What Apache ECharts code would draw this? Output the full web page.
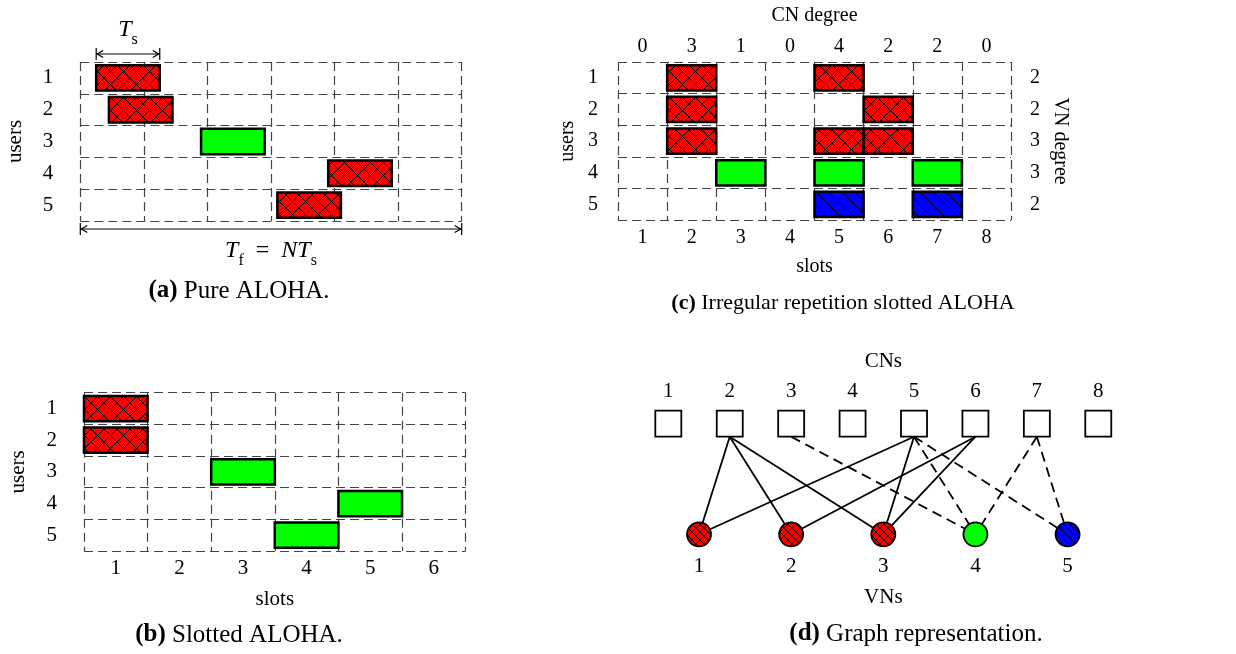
<!DOCTYPE html>
<html>
<head>
<meta charset="utf-8">
<script src="https://cdn.jsdelivr.net/npm/echarts@6/dist/echarts.min.js"></script>
<style>
html, body { margin: 0; padding: 0; background: #fff; }
#main { width: 1236px; height: 654px; }
</style>
</head>
<body>
<div id="main"></div>
<script>
// tick labels
var users = ["1", "2", "3", "4", "5"];
var slotsB = ["1", "2", "3", "4", "5", "6"];
var slotsC = ["1", "2", "3", "4", "5", "6", "7", "8"];
var cnDegree = ["0", "3", "1", "0", "4", "2", "2", "0"];
var vnDegree = ["2", "2", "3", "3", "2"];
var cnLabels = ["1", "2", "3", "4", "5", "6", "7", "8"];
var vnLabels = ["1", "2", "3", "4", "5"];

// packets: [start, user row (0 = user 1), length, kind]   kind: 0 collided, 1 clean, 2 blue
var pureAloha = [[0.25, 0, 1, 0], [0.45, 1, 1, 0], [1.9, 2, 1, 1], [3.9, 3, 1, 0], [3.1, 4, 1, 0]];
var slottedAloha = [[0, 0, 1, 0], [0, 1, 1, 0], [2, 2, 1, 1], [4, 3, 1, 1], [3, 4, 1, 1]];
// irregular repetition: slots used by each user, and kind of each user
var irsaSlots = [[2, 5], [2, 6], [2, 5, 6], [3, 5, 7], [5, 7]];
var irsaKind = [0, 0, 0, 1, 2];

// graph: CN and VN positions on the same x scale
var cnX = [1, 2, 3, 4, 5, 6, 7, 8];
var vnX = [1.5, 3, 4.5, 6, 7.5];

var font = "Liberation Serif";

// hatch fill built on a small canvas
function hatch(bg, step, cross, lw) {
  var c = document.createElement("canvas");
  c.width = step; c.height = step;
  var ctx = c.getContext("2d");
  ctx.fillStyle = bg;
  ctx.fillRect(0, 0, step, step);
  ctx.strokeStyle = "#000";
  ctx.lineWidth = lw;
  ctx.beginPath();
  for (var k = -step; k <= step; k += step) {
    ctx.moveTo(k, 0); ctx.lineTo(k + step, step);
    if (cross) { ctx.moveTo(k + step, 0); ctx.lineTo(k, step); }
  }
  ctx.stroke();
  return { image: c, repeat: "repeat" };
}

var packetFills = [hatch("#ff0000", 13, true, 1), "#00ff00", hatch("#0000ff", 13, false, 1)];
var nodeFills = [hatch("#ff0000", 8, true, 0.9), "#00ff00", hatch("#0000ff", 7, false, 0.9)];

var irsaPackets = [];
for (let i = 0; i < irsaSlots.length; i++) {
  for (let j = 0; j < irsaSlots[i].length; j++) {
    irsaPackets.push([irsaSlots[i][j] - 1, i, 1, irsaKind[i]]);
  }
}
var edges = [];
for (let i = 0; i < irsaSlots.length; i++) {
  for (let j = 0; j < irsaSlots[i].length; j++) {
    edges.push([cnX[irsaSlots[i][j] - 1], vnX[i], irsaKind[i] == 0 ? 0 : 1]);
  }
}
var vnNodes = vnX.map(function(x, i) { return [x, 0, irsaKind[i]]; });
// dimension arrows of panel (a): packet duration and frame
var dims = [[pureAloha[0][0], pureAloha[0][0] + pureAloha[0][2], 0], [0, 6, 1]];

function packetItem(params, api) {
  var x0 = api.value(0), row = api.value(1), len = api.value(2);
  var p0 = api.coord([x0, row]);
  var p1 = api.coord([x0 + len, row + 1]);
  var pad = 3.2;
  return {
    type: "rect",
    shape: { x: p0[0], y: p0[1] + pad, width: p1[0] - p0[0], height: p1[1] - p0[1] - 2 * pad },
    style: { fill: packetFills[api.value(3)], stroke: "#000", lineWidth: 2.5 }
  };
}

function dimItem(params, api) {
  var a = api.coord([api.value(0), 0]);
  var b = api.coord([api.value(1), 5]);
  var below = api.value(2) == 1;
  var y = below ? b[1] + 8 : a[1] - 8;
  var x1 = a[0], x2 = b[0];
  var st = { stroke: "#000", lineWidth: 1.2, fill: null };
  var text = below ? "{t|T}{s|f}{r|  =  }{t|NT}{s|s}" : "{t|T}{s|s}";
  return {
    type: "group",
    children: [
      { type: "line", shape: { x1: x1, y1: y, x2: x2, y2: y }, style: st },
      { type: "line", shape: { x1: x1, y1: y - 6, x2: x1, y2: y + 6 }, style: st },
      { type: "line", shape: { x1: x2, y1: y - 6, x2: x2, y2: y + 6 }, style: st },
      { type: "polyline", shape: { points: [[x1 + 7, y - 3.5], [x1 + 1, y], [x1 + 7, y + 3.5]] }, style: st },
      { type: "polyline", shape: { points: [[x2 - 7, y - 3.5], [x2 - 1, y], [x2 - 7, y + 3.5]] }, style: st },
      {
        type: "text",
        style: {
          text: text,
          x: (x1 + x2) / 2,
          y: below ? y + 25 : y - 21,
          align: "center",
          verticalAlign: "middle",
          fill: "#000",
          rich: {
            t: { fontFamily: font, fontStyle: "italic", fontSize: 24, lineHeight: 30, verticalAlign: "top" },
            s: { fontFamily: font, fontSize: 16, lineHeight: 18, verticalAlign: "bottom" },
            r: { fontFamily: font, fontSize: 24, lineHeight: 30, verticalAlign: "top" }
          }
        }
      }
    ]
  };
}

function edgeItem(params, api) {
  var pc = api.coord([api.value(0), 1]);
  var pv = api.coord([api.value(1), 0]);
  return {
    type: "line",
    shape: { x1: pc[0], y1: pc[1] + 13, x2: pv[0], y2: pv[1] },
    style: { stroke: "#000", lineWidth: 1.8, lineDash: api.value(2) == 1 ? [10, 6] : null }
  };
}

function vnItem(params, api) {
  var p = api.coord([api.value(0), api.value(1)]);
  return {
    type: "group",
    children: [
      {
        type: "circle",
        shape: { cx: p[0], cy: p[1], r: 12 },
        style: { fill: nodeFills[api.value(2)], stroke: "#000", lineWidth: 1.8 }
      },
      {
        type: "text",
        style: {
          text: vnLabels[params.dataIndex], x: p[0], y: p[1] + 32,
          align: "center", verticalAlign: "middle",
          fontFamily: font, fontSize: 21, fill: "#000"
        }
      }
    ]
  };
}

var txt = { fontFamily: font, fontSize: 21, color: "#000" };
var dashLine = { show: true, lineStyle: { color: "#444", width: 1.2, type: [9, 5] } };

function valueAxis(grid, max, extra) {
  return Object.assign({
    type: "value", gridIndex: grid, min: 0, max: max, interval: 1,
    axisLine: { show: false }, axisTick: { show: false }, axisLabel: { show: false },
    splitLine: dashLine
  }, extra || {});
}
function labelAxis(grid, data, extra, labelExtra) {
  return Object.assign({
    type: "category", gridIndex: grid, data: data,
    axisLine: { show: false }, axisTick: { show: false }, splitLine: { show: false },
    axisLabel: Object.assign({}, txt, labelExtra || {}),
    nameLocation: "middle",
    nameTextStyle: Object.assign({}, txt, labelExtra && labelExtra.fontSize ? { fontSize: labelExtra.fontSize } : {})
  }, extra || {});
}
function caption(x, y, tag, rest, size) {
  return {
    type: "text", x: x, y: y,
    style: {
      text: "{b|" + tag + "}{n| " + rest + "}",
      align: "center", verticalAlign: "middle", fill: "#000",
      rich: {
        b: { fontFamily: font, fontSize: size, fontWeight: "bold" },
        n: { fontFamily: font, fontSize: size }
      }
    }
  };
}

var myChart = echarts.init(document.getElementById("main"));
var option = {
  animation: false,
  backgroundColor: "#fff",
  grid: [
    { left: 80.3, top: 62, width: 381.4, height: 159, outerBoundsMode: "none" },
    { left: 84, top: 392.7, width: 381.6, height: 158.3, outerBoundsMode: "none" },
    { left: 618, top: 62, width: 393, height: 158.3, outerBoundsMode: "none" },
    { left: 606.9, top: 423.7, width: 552.8, height: 110.6, outerBoundsMode: "none" }
  ],
  xAxis: [
    valueAxis(0, 6),
    valueAxis(1, 6),
    labelAxis(1, slotsB, { position: "bottom", name: "slots", nameGap: 38 }, { margin: 7 }),
    valueAxis(2, 8),
    labelAxis(2, slotsC, { position: "bottom", name: "slots", nameGap: 36 }, { margin: 7, fontSize: 20 }),
    labelAxis(2, cnDegree, { position: "top", name: "CN degree", nameGap: 36 }, { margin: 5, fontSize: 20 }),
    {
      type: "value", gridIndex: 3, min: 0, max: 9, position: "top",
      axisLine: { show: false }, axisTick: { show: false }, axisLabel: { show: false }, splitLine: { show: false },
      name: "CNs", nameLocation: "middle", nameGap: 52, nameTextStyle: txt
    },
    {
      type: "value", gridIndex: 3, min: 0, max: 9, position: "bottom",
      axisLine: { show: false }, axisTick: { show: false }, axisLabel: { show: false }, splitLine: { show: false },
      name: "VNs", nameLocation: "middle", nameGap: 53, nameTextStyle: txt
    }
  ],
  yAxis: [
    valueAxis(0, 5, { inverse: true }),
    labelAxis(0, users, { inverse: true, position: "left", name: "users", nameRotate: 90, nameGap: 54 }, { margin: 27 }),
    valueAxis(1, 5, { inverse: true }),
    labelAxis(1, users, { inverse: true, position: "left", name: "users", nameRotate: 90, nameGap: 55 }, { margin: 27 }),
    valueAxis(2, 5, { inverse: true }),
    labelAxis(2, users, { inverse: true, position: "left", name: "users", nameRotate: 90, nameGap: 40 }, { margin: 20, fontSize: 20 }),
    labelAxis(2, vnDegree, { inverse: true, position: "right", name: "VN degree", nameRotate: -90, nameGap: 39 }, { margin: 19, fontSize: 20 }),
    { type: "value", gridIndex: 3, min: 0, max: 1, show: false }
  ],
  graphic: [
    caption(239, 291, "(a)", "Pure ALOHA.", 25),
    caption(239, 635, "(b)", "Slotted ALOHA.", 25),
    caption(843, 303, "(c)", "Irregular repetition slotted ALOHA", 22),
    caption(916, 634, "(d)", "Graph representation.", 25)
  ],
  series: [
    { type: "custom", xAxisIndex: 0, yAxisIndex: 0, renderItem: packetItem, data: pureAloha },
    { type: "custom", xAxisIndex: 0, yAxisIndex: 0, renderItem: dimItem, data: dims },
    { type: "custom", xAxisIndex: 1, yAxisIndex: 2, renderItem: packetItem, data: slottedAloha },
    { type: "custom", xAxisIndex: 3, yAxisIndex: 4, renderItem: packetItem, data: irsaPackets },
    { type: "custom", xAxisIndex: 6, yAxisIndex: 7, renderItem: edgeItem, data: edges, z: 1 },
    {
      type: "scatter", xAxisIndex: 6, yAxisIndex: 7, z: 3,
      symbol: "rect", symbolSize: 26,
      itemStyle: { color: "#fff", borderColor: "#000", borderWidth: 1.8, opacity: 1 },
      label: {
        show: true, position: "top", distance: 8,
        fontFamily: font, fontSize: 21, color: "#000",
        formatter: function(p) { return cnLabels[p.dataIndex]; }
      },
      data: cnX.map(function(x) { return [x, 1]; })
    },
    { type: "custom", xAxisIndex: 6, yAxisIndex: 7, renderItem: vnItem, data: vnNodes, z: 3 }
  ]
};
myChart.setOption(option);
</script>
</body>
</html>
